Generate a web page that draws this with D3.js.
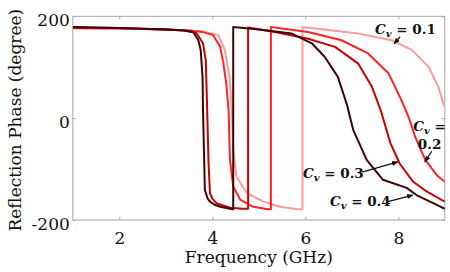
<!DOCTYPE html>
<html>
<head>
<meta charset="utf-8">
<script src="https://cdn.jsdelivr.net/npm/d3@7"></script>
<style>
  body { margin: 0; background: #fff; }
  svg { display: block; }
  .tick text { font-family: "DejaVu Serif", serif; font-size: 17px; fill: #111; }
  .axis path, .axis line { stroke: #a6a6a6; }
</style>
</head>
<body>
<div id="chart"></div>
<script>
// frequency (GHz) and reflection phase (degree) for each Cv
var freq01 = [1, 2, 3, 3.5, 3.8, 4.13, 4.27, 4.37, 4.42, 4.45, 4.52, 4.74, 5.1, 5.46, 5.85, 5.94, 5.94, 7.14, 7.86, 8.29, 8.65, 8.86, 8.97, 9.0];
var phase01 = [176, 176, 174, 172, 170, 163, 134, 81, 16, -62, -115, -147, -164, -174, -179, -179, 179, 166, 153, 134, 101, 62, 29, 22];

var freq02 = [1, 2, 3, 3.5, 3.8, 4.02, 4.17, 4.24, 4.30, 4.35, 4.38, 4.45, 4.6, 4.88, 5.2, 5.26, 5.26, 6.06, 6.78, 7.35, 7.79, 8.07, 8.23, 8.36, 8.58, 8.83, 9.0];
var phase02 = [177, 176, 174, 172, 169, 163, 140, 107, 68, 16, -82, -134, -160, -174, -179, -179, 179, 169, 153, 127, 88, 35, 0, -36, -82, -112, -125];

var freq03 = [1, 2, 3, 3.4, 3.66, 3.80, 3.86, 3.89, 3.92, 3.95, 4.0, 4.09, 4.38, 4.66, 4.77, 4.77, 5.35, 6.06, 6.64, 7.14, 7.43, 7.62, 7.83, 8.03, 8.32, 8.61, 9.0];
var phase03 = [178, 177, 174, 172, 167, 147, 114, 16, -90, -147, -158, -167, -176, -178, -178, 178, 169, 156, 140, 107, 62, 16, -49, -89, -125, -144, -164];

var freq04 = [1, 2, 3, 3.4, 3.59, 3.7, 3.75, 3.79, 3.8, 3.84, 3.9, 3.95, 4.05, 4.17, 4.38, 4.45, 4.45, 5.0, 5.71, 6.14, 6.42, 6.70, 6.9, 7.03, 7.32, 7.67, 8.18, 8.39, 8.75, 9.0];
var phase04 = [179, 177, 174, 172, 169, 153, 134, 81, 16, -141, -158, -164, -170, -174, -178, -179, 179, 174, 166, 147, 120, 81, 25, -23, -82, -121, -137, -151, -167, -178];

var xTicks = [2, 4, 6, 8];
var yTicks = [-200, 0, 200];
var cvLabels = ["0.1", "0.2", "0.3", "0.4"];
var colors = ["#ff9a9a", "#ff2222", "#c80000", "#3a0505"];

var w = 450, h = 272;
var x = d3.scaleLinear().domain([1, 9]).range([72.8, 444.8]);
var y = d3.scaleLinear().domain([-200, 200]).range([220, 16.3]);

var svg = d3.select("#chart").append("svg")
    .attr("width", w).attr("height", h);

svg.append("defs").append("clipPath").attr("id", "clip")
   .append("rect")
   .attr("x", x(1)).attr("y", y(200))
   .attr("width", x(9) - x(1)).attr("height", y(-200) - y(200));

// axes (box with inward ticks)
svg.append("g").attr("class", "axis")
   .attr("transform", "translate(0," + y(-200) + ")")
   .call(d3.axisBottom(x).tickValues(xTicks).tickSize(-3).tickSizeOuter(0).tickPadding(8))
   .selectAll("text").attr("dy", "0.95em");
svg.append("g").attr("class", "axis")
   .attr("transform", "translate(0," + y(200) + ")")
   .call(d3.axisTop(x).tickValues(xTicks).tickSize(-3).tickSizeOuter(0).tickFormat(""));
svg.append("g").attr("class", "axis")
   .attr("transform", "translate(" + x(1) + ",0)")
   .call(d3.axisLeft(y).tickValues(yTicks).tickSize(-3).tickSizeOuter(0).tickPadding(3)
         .tickFormat(function(d) { return d < 0 ? "-" + Math.abs(d) : d; }))
   .selectAll("text").attr("dy", "0.55em");
svg.append("g").attr("class", "axis")
   .attr("transform", "translate(" + x(9) + ",0)")
   .call(d3.axisRight(y).tickValues(yTicks).tickSize(-3).tickSizeOuter(0).tickFormat(""));
svg.selectAll(".axis .domain").remove();
svg.append("rect")
   .attr("x", x(1)).attr("y", y(200))
   .attr("width", x(9) - x(1)).attr("height", y(-200) - y(200))
   .attr("fill", "none").attr("stroke", "#a6a6a6");

// curves
var series = [
    { f: freq01, p: phase01 },
    { f: freq02, p: phase02 },
    { f: freq03, p: phase03 },
    { f: freq04, p: phase04 }
];
var line = d3.line()
    .x(function(d) { return x(d[0]); })
    .y(function(d) { return y(d[1]); });

svg.append("g").attr("clip-path", "url(#clip)")
   .selectAll("path")
   .data(series)
   .enter()
   .append("path")
   .attr("d", function(s) { return line(d3.zip(s.f, s.p)); })
   .attr("fill", "none")
   .attr("stroke", function(s, i) { return colors[i]; })
   .attr("stroke-width", 2)
   .attr("stroke-linejoin", "round");

// annotations (positions in data units)
svg.append("defs").append("marker")
   .attr("id", "arrow").attr("viewBox", "0 0 10 10")
   .attr("refX", 9).attr("refY", 5)
   .attr("markerWidth", 5).attr("markerHeight", 5)
   .attr("orient", "auto")
   .append("path").attr("d", "M0,1 L10,5 L0,9 Z").attr("fill", "#111");

var notes = [
    { lines: [[7.50, 166, true, cvLabels[0]]], from: [8.04, 160], to: [7.91, 146] },
    { lines: [[8.32, -25, true, ""], [8.42, -60, false, cvLabels[1]]], from: [8.72, -65], to: [8.57, -86] },
    { lines: [[5.95, -118, true, cvLabels[2]]], from: [7.22, -106], to: [7.99, -86] },
    { lines: [[6.53, -173, true, cvLabels[3]]], from: [7.78, -164], to: [8.31, -151] }
];

var ann = svg.append("g")
    .attr("font-family", "'DejaVu Serif', serif")
    .attr("font-weight", "bold")
    .attr("font-size", 13.5)
    .attr("fill", "#111");

notes.forEach(function(n) {
    n.lines.forEach(function(l) {
        var t = ann.append("text").attr("x", x(l[0])).attr("y", y(l[1]));
        if (l[2]) {
            t.append("tspan").attr("font-style", "italic").text("C");
            t.append("tspan").attr("font-style", "italic").attr("font-size", 10).attr("dy", 3).text("v");
            t.append("tspan").attr("dy", -3).text(l[3] ? " = " + l[3] : " =");
        } else {
            t.text(l[3]);
        }
    });
    ann.append("line")
       .attr("x1", x(n.from[0])).attr("y1", y(n.from[1]))
       .attr("x2", x(n.to[0])).attr("y2", y(n.to[1]))
       .attr("stroke", "#111").attr("stroke-width", 1.3)
       .attr("marker-end", "url(#arrow)");
});

// axis titles
svg.append("text")
   .attr("x", (x(1) + x(9)) / 2).attr("y", 263)
   .attr("text-anchor", "middle")
   .attr("font-family", "'DejaVu Serif', serif").attr("font-size", 17)
   .attr("fill", "#111")
   .text("Frequency (GHz)");
svg.append("text")
   .attr("transform", "translate(21," + (y(0) + 2) + ") rotate(-90)")
   .attr("text-anchor", "middle")
   .attr("font-family", "'DejaVu Serif', serif").attr("font-size", 17)
   .attr("fill", "#111")
   .text("Reflection Phase (degree)");
</script>
</body>
</html>
